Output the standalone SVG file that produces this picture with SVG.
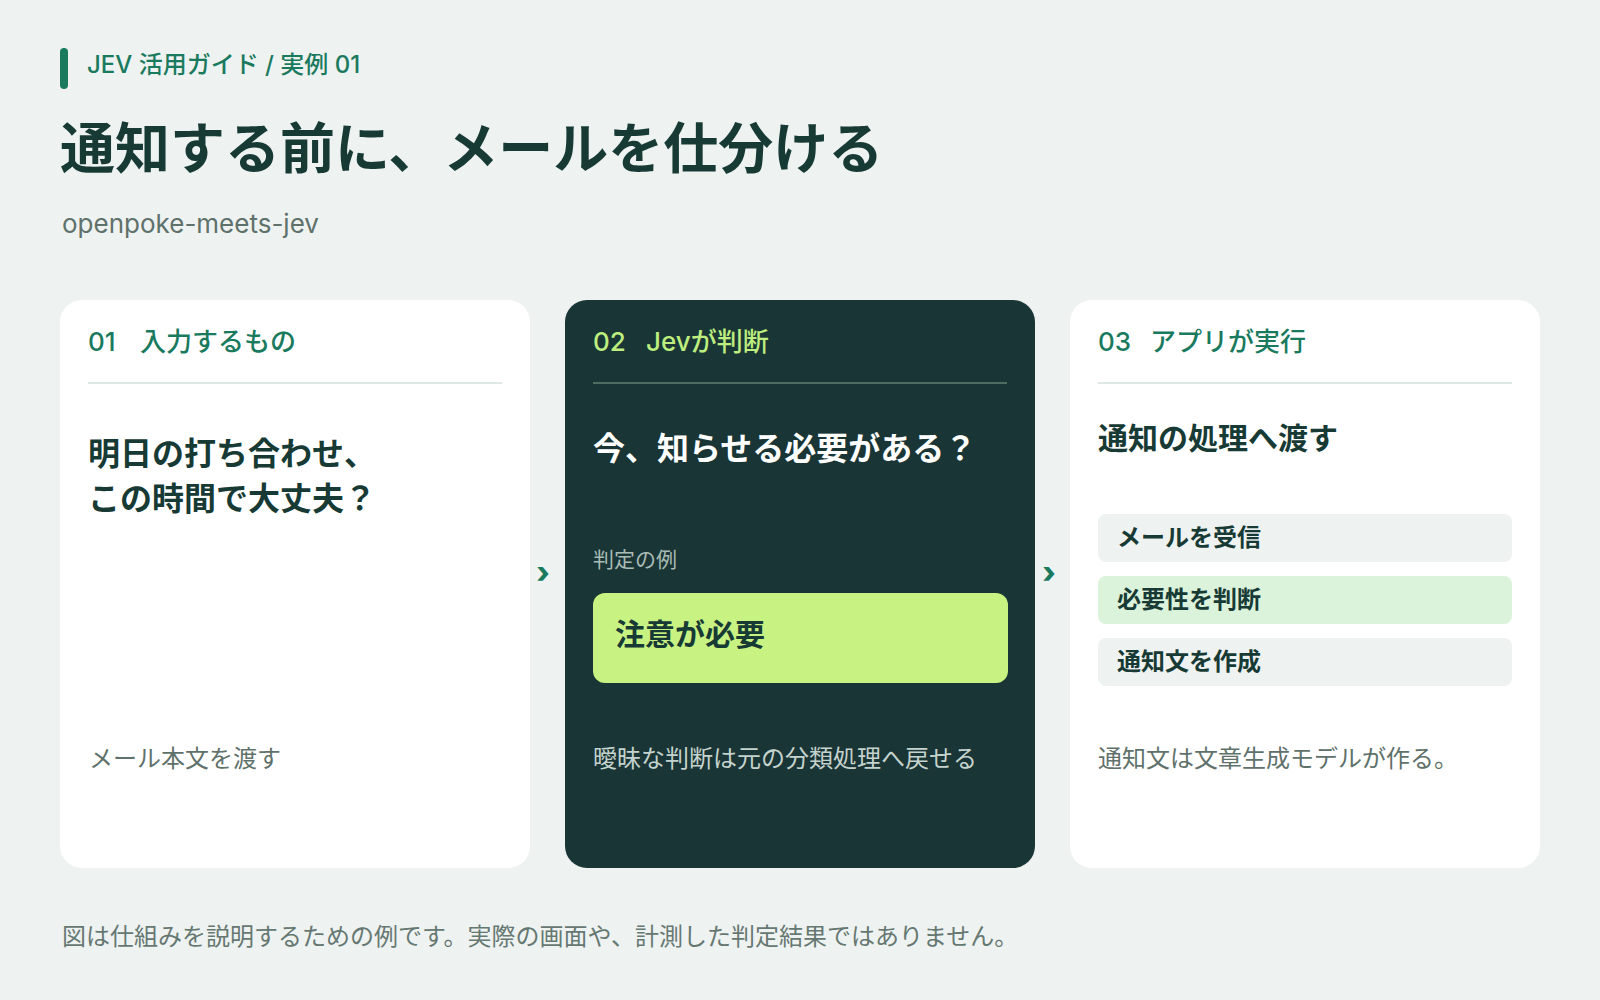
<svg xmlns="http://www.w3.org/2000/svg" width="1600" height="1000" viewBox="0 0 1600 1000">
<style>
text { font-family: Inter, "Noto Sans CJK JP", "Noto Sans", sans-serif; }
.eyebrow { font-size: 24px; font-weight: 500; fill: #1a7a5e; }
.title { font-size: 55px; font-weight: 700; fill: #173a35; }
.sub { font-size: 26px; font-weight: 400; fill: #5f716b; }
.card { fill: #ffffff; }
.card-dark { fill: #1a3535; }
.head { font-size: 26px; font-weight: 500; fill: #1a7a5e; }
.head-dark { font-size: 26px; font-weight: 500; fill: #bdee7f; }
.div { stroke: #dde8e5; stroke-width: 2; }
.div-dark { stroke: #4e6d62; stroke-width: 2; }
.q { font-size: 32px; font-weight: 700; fill: #173a35; }
.q-dark { font-size: 32px; font-weight: 700; fill: #ffffff; }
.q3 { font-size: 30px; font-weight: 700; fill: #173a35; }
.note { font-size: 24px; font-weight: 400; fill: #5f716b; }
.note-dark { font-size: 24px; font-weight: 400; fill: #c5d3ce; }
.label-dark { font-size: 21px; font-weight: 400; fill: #a9bcb5; }
.verdict { font-size: 30px; font-weight: 700; fill: #173a35; }
.step { font-size: 24px; font-weight: 700; fill: #173a35; }
.chev { font-size: 30px; font-weight: 800; fill: #1a7a5e; }
.foot { font-size: 24px; font-weight: 400; fill: #667872; }
</style>
<rect x="0" y="0" width="1600" height="1000" fill="#eef2f1"/>

<g id="header">
  <rect x="60" y="48" width="8" height="41" rx="4" fill="#1a7a5e"/>
  <text class="eyebrow" x="87" y="73">JEV 活用ガイド / 実例 01</text>
  <text class="title" x="60" y="168">通知する前に、メールを仕分ける</text>
  <text class="sub" x="62" y="233">openpoke-meets-jev</text>
</g>

<g id="card-01">
  <rect class="card" x="60" y="300" width="470" height="568" rx="22"/>
  <text class="head" x="88" y="351"><tspan>01</tspan><tspan x="140">入力するもの</tspan></text>
  <line class="div" x1="88" y1="383" x2="502" y2="383"/>
  <text class="q" x="88" y="465">明日の打ち合わせ、</text>
  <text class="q" x="88" y="510">この時間で大丈夫？</text>
  <text class="note" x="89" y="767">メール本文を渡す</text>
</g>

<g id="card-02">
  <rect class="card-dark" x="565" y="300" width="470" height="568" rx="22"/>
  <text class="head-dark" x="593" y="351"><tspan>02</tspan><tspan x="646">Jevが判断</tspan></text>
  <line class="div-dark" x1="593" y1="383" x2="1007" y2="383"/>
  <text class="q-dark" x="593" y="460">今、知らせる必要がある？</text>
  <text class="label-dark" x="593" y="567">判定の例</text>
  <rect x="593" y="593" width="415" height="90" rx="12" fill="#c8f383"/>
  <text class="verdict" x="615" y="645">注意が必要</text>
  <text class="note-dark" x="593" y="767">曖昧な判断は元の分類処理へ戻せる</text>
</g>

<g id="card-03">
  <rect class="card" x="1070" y="300" width="470" height="568" rx="22"/>
  <text class="head" x="1098" y="351"><tspan>03</tspan><tspan x="1150">アプリが実行</tspan></text>
  <line class="div" x1="1098" y1="383" x2="1512" y2="383"/>
  <text class="q3" x="1098" y="449">通知の処理へ渡す</text>
  <rect x="1098" y="514" width="414" height="48" rx="8" fill="#eef2f1"/>
  <text class="step" x="1117" y="546">メールを受信</text>
  <rect x="1098" y="576" width="414" height="48" rx="8" fill="#dbf2db"/>
  <text class="step" x="1117" y="608">必要性を判断</text>
  <rect x="1098" y="638" width="414" height="48" rx="8" fill="#eef2f1"/>
  <text class="step" x="1117" y="670">通知文を作成</text>
  <text class="note" x="1098" y="767">通知文は文章生成モデルが作る。</text>
</g>

<g id="connectors">
  <text class="chev" x="543" y="583" text-anchor="middle">›</text>
  <text class="chev" x="1049" y="583" text-anchor="middle">›</text>
</g>

<g id="footer">
  <text class="foot" x="62" y="945">図は仕組みを説明するための例です。実際の画面や、計測した判定結果ではありません。</text>
</g>
</svg>
